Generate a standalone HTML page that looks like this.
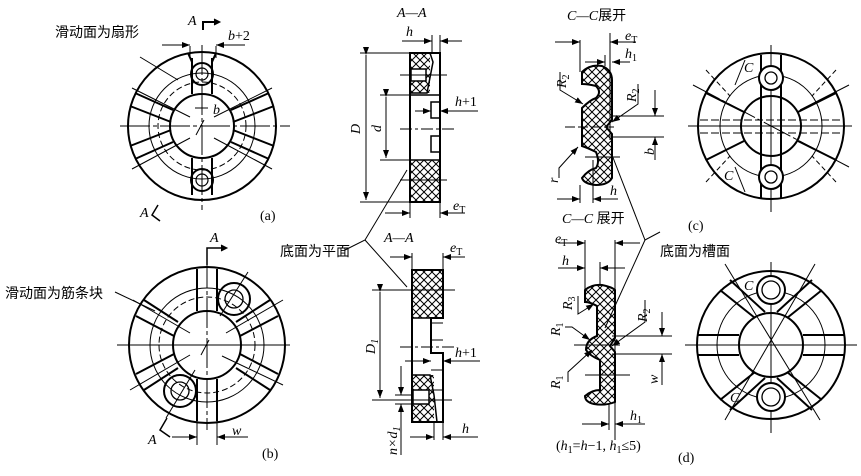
<!DOCTYPE html>
<html><head><meta charset="utf-8"><style>
body{margin:0;background:#fff}
svg{display:block}
text{font-family:"Liberation Serif","Noto Serif CJK SC",serif;font-size:14px;fill:#000}
.cn{font-family:"Liberation Sans","Noto Sans CJK SC",sans-serif;font-size:14px}
.i{font-style:italic}
</style></head><body>
<svg width="861" height="476" viewBox="0 0 861 476" xmlns="http://www.w3.org/2000/svg">
<defs>
<pattern id="h" width="8" height="8" patternUnits="userSpaceOnUse">
<path d="M0 0L8 8M8 0L0 8" stroke="#000" stroke-width="1"/>
</pattern>
<marker id="ar" markerWidth="8" markerHeight="6" refX="8" refY="3" orient="auto"><path d="M0 0L8 3L0 6z" fill="#000"/></marker>
</defs>
<g fill="none" stroke="#000">

<!-- (a) -->
<g>
<circle cx="202" cy="126" r="74" stroke-width="2"/>
<circle cx="202" cy="126" r="53" stroke-width="1"/>
<circle cx="202" cy="126" r="44" stroke-width="1" stroke-dasharray="6 3"/>
<circle cx="202" cy="126" r="32" stroke-width="2"/>
<line x1="120" y1="126" x2="290" y2="126" stroke-dasharray="30 3 4 3"/>
<line x1="202" y1="45" x2="202" y2="210" stroke-dasharray="30 3 4 3"/>
<g stroke-width="2">
<line x1="192" y1="58" x2="192" y2="94"/><line x1="212" y1="58" x2="212" y2="94"/>
<line x1="192" y1="158" x2="192" y2="195"/><line x1="212" y1="158" x2="212" y2="195"/>
<line x1="188" y1="53" x2="192" y2="62"/><line x1="216" y1="53" x2="212" y2="62"/>
<circle cx="202" cy="74" r="11"/><circle cx="202" cy="74" r="6" stroke-width="1.2"/>
<circle cx="202" cy="180" r="11"/><circle cx="202" cy="180" r="6" stroke-width="1.2"/>
<line x1="135" y1="93" x2="173" y2="110"/><line x1="130" y1="106" x2="171" y2="122"/>
<line x1="269" y1="93" x2="231" y2="110"/><line x1="274" y1="106" x2="233" y2="122"/>
<line x1="135" y1="159" x2="173" y2="142"/><line x1="130" y1="146" x2="171" y2="130"/>
<line x1="269" y1="159" x2="231" y2="142"/><line x1="274" y1="146" x2="233" y2="130"/>
</g>
<line x1="132" y1="88" x2="190" y2="117"/><line x1="272" y1="88" x2="214" y2="117"/>
<line x1="132" y1="169" x2="190" y2="138"/><line x1="272" y1="169" x2="214" y2="138"/>
<line x1="196" y1="135" x2="204" y2="120"/>
<line x1="190" y1="46" x2="190" y2="58"/><line x1="216" y1="46" x2="216" y2="58"/>
<line x1="162" y1="45" x2="190" y2="45" marker-end="url(#ar)"/><line x1="245" y1="45" x2="216" y2="45" marker-end="url(#ar)"/>
<line x1="195" y1="108" x2="208" y2="108"/>
<line x1="140" y1="57" x2="178" y2="80"/>
<path d="M203 30V22H215" stroke-width="2"/><path d="M214 19L220 22L214 25" fill="#000"/>
<path d="M158 205L152 215L160 221" stroke-width="1.5"/>
</g>

<!-- (a) section -->
<g>
<rect x="410" y="53" width="20" height="40" fill="url(#h)" stroke="none"/>
<rect x="410" y="160" width="30" height="42" fill="url(#h)" stroke="none"/>
<rect x="411" y="69" width="15" height="12" fill="#fff" stroke-width="1.5"/>
<rect x="410" y="53" width="30" height="149" stroke-width="2"/>
<path d="M430 53L433 62L427 93H410" stroke-width="1.5"/>
<line x1="410" y1="95" x2="440" y2="95" stroke-width="1.5"/>
<line x1="410" y1="160" x2="440" y2="160" stroke-width="1.5"/>
<rect x="431" y="102" width="9" height="16" stroke-width="1.5"/>
<rect x="431" y="136" width="9" height="16" stroke-width="1.5"/>
<line x1="400" y1="129" x2="455" y2="129" stroke-dasharray="12 3 3 3"/>
<line x1="400" y1="75" x2="447" y2="75"/>
<line x1="400" y1="180" x2="447" y2="180"/>
<line x1="360" y1="53" x2="410" y2="53"/><line x1="360" y1="202" x2="410" y2="202"/>
<line x1="366" y1="55" x2="366" y2="200" marker-start="url(#ar)" marker-end="url(#ar)" />
<line x1="380" y1="95" x2="410" y2="95"/><line x1="380" y1="160" x2="410" y2="160"/>
<line x1="386" y1="97" x2="386" y2="158" marker-start="url(#ar)" marker-end="url(#ar)"/>
<line x1="432" y1="35" x2="432" y2="53"/><line x1="440" y1="35" x2="440" y2="53"/>
<line x1="402" y1="41" x2="432" y2="41" marker-end="url(#ar)"/><line x1="462" y1="41" x2="440" y2="41" marker-end="url(#ar)"/>
<line x1="415" y1="111" x2="431" y2="111" marker-end="url(#ar)"/><line x1="478" y1="111" x2="440" y2="111" marker-end="url(#ar)"/>
<line x1="410" y1="202" x2="410" y2="218"/><line x1="440" y1="202" x2="440" y2="218"/>
<line x1="385" y1="213" x2="410" y2="213" marker-end="url(#ar)"/><line x1="465" y1="213" x2="440" y2="213" marker-end="url(#ar)"/>
<path d="M345 250L365 240L407 170"/>
<path d="M365 240L407 287"/>
</g>

<!-- (b) -->
<g>
<circle cx="207" cy="345" r="78" stroke-width="2"/>
<circle cx="207" cy="345" r="57" stroke-width="1"/>
<circle cx="207" cy="345" r="48" stroke-width="1" stroke-dasharray="6 3"/>
<circle cx="207" cy="345" r="34" stroke-width="2"/>
<line x1="117" y1="345" x2="290" y2="345"/>
<line x1="207" y1="258" x2="207" y2="430" stroke-dasharray="30 3 4 3"/>
<g stroke-width="2">
<line x1="197" y1="269" x2="197" y2="311"/><line x1="217" y1="269" x2="217" y2="311"/>
<line x1="197" y1="379" x2="197" y2="421"/><line x1="217" y1="379" x2="217" y2="421"/>
<line x1="144" y1="300" x2="178" y2="322"/><line x1="136" y1="316" x2="174" y2="336"/>
<line x1="270" y1="300" x2="236" y2="322"/><line x1="278" y1="316" x2="240" y2="336"/>
<line x1="144" y1="390" x2="178" y2="368"/><line x1="136" y1="374" x2="174" y2="354"/>
<line x1="270" y1="390" x2="236" y2="368"/><line x1="278" y1="374" x2="240" y2="354"/>
<circle cx="234" cy="299" r="16"/><circle cx="234" cy="299" r="9" stroke-width="1.3"/>
<circle cx="180" cy="391" r="16"/><circle cx="180" cy="391" r="9" stroke-width="1.3"/>
</g>
<line x1="248" y1="272" x2="220" y2="316"/><line x1="166" y1="418" x2="195" y2="370"/>
<line x1="130" y1="390" x2="190" y2="355"/><line x1="283" y1="300" x2="226" y2="333"/>
<line x1="283" y1="385" x2="222" y2="356"/><line x1="133" y1="300" x2="190" y2="333"/>
<line x1="201" y1="355" x2="209" y2="340"/>
<line x1="197" y1="421" x2="197" y2="445"/><line x1="217" y1="421" x2="217" y2="445"/>
<line x1="172" y1="437" x2="197" y2="437" marker-end="url(#ar)"/><line x1="248" y1="437" x2="217" y2="437" marker-end="url(#ar)"/>
<line x1="115" y1="292" x2="155" y2="311"/>
<path d="M207 265V248H222" stroke-width="1.5"/><path d="M221 245L227 248L221 251" fill="#000"/>
<path d="M167 418L160 430L170 437" stroke-width="1.5"/>
</g>

<!-- (b) section -->
<g>
<rect x="412" y="270" width="31" height="48" fill="url(#h)" stroke="none"/>
<rect x="412" y="375" width="22" height="47" fill="url(#h)" stroke="none"/>
<rect x="413" y="390" width="16" height="14" fill="#fff" stroke-width="1.5"/>
<path d="M412 270H443V318H431V353H443V422H412Z" stroke-width="2"/>
<path d="M412 375H430L434 395L437 422" stroke-width="1.5"/>
<line x1="412" y1="318" x2="431" y2="318" stroke-width="1.5"/>
<line x1="431" y1="323" x2="443" y2="323"/><line x1="431" y1="340" x2="443" y2="340"/>
<line x1="431" y1="370" x2="443" y2="370"/><line x1="431" y1="390" x2="443" y2="390"/>
<line x1="400" y1="347" x2="455" y2="347" stroke-dasharray="12 3 3 3"/>
<line x1="372" y1="290" x2="455" y2="290"/><line x1="372" y1="400" x2="452" y2="400"/>
<line x1="380" y1="292" x2="380" y2="398" marker-start="url(#ar)" marker-end="url(#ar)"/>
<line x1="412" y1="253" x2="412" y2="270"/><line x1="443" y1="253" x2="443" y2="270"/>
<line x1="390" y1="257" x2="412" y2="257" marker-end="url(#ar)"/><line x1="465" y1="257" x2="443" y2="257" marker-end="url(#ar)"/>
<line x1="405" y1="361" x2="431" y2="361" marker-end="url(#ar)"/><line x1="480" y1="361" x2="443" y2="361" marker-end="url(#ar)"/>
<line x1="401" y1="366" x2="401" y2="395" marker-end="url(#ar)"/><line x1="401" y1="455" x2="401" y2="404" marker-end="url(#ar)"/>
<line x1="395" y1="395" x2="412" y2="395"/><line x1="395" y1="404" x2="412" y2="404"/>
<line x1="434" y1="422" x2="434" y2="440"/><line x1="443" y1="422" x2="443" y2="440"/>
<line x1="410" y1="437" x2="434" y2="437" marker-end="url(#ar)"/><line x1="478" y1="437" x2="443" y2="437" marker-end="url(#ar)"/>
</g>

<!-- (c) section -->
<g>
<path d="M582 72Q590 64 602 66Q612 70 612 80V120L606 127L612 134V178Q608 185 596 185Q584 184 582 178Q588 170 596 168Q600 162 596 152Q588 148 582 146V108Q590 100 596 98Q602 92 596 86Q588 84 582 84Z" fill="url(#h)" stroke-width="2"/>
<line x1="580" y1="40" x2="580" y2="72"/><line x1="610" y1="33" x2="610" y2="140"/>
<line x1="555" y1="42" x2="580" y2="42" marker-end="url(#ar)"/><line x1="636" y1="42" x2="610" y2="42" marker-end="url(#ar)"/>
<line x1="605" y1="55" x2="605" y2="66"/><line x1="585" y1="62" x2="605" y2="62" marker-end="url(#ar)"/><line x1="630" y1="62" x2="612" y2="62" marker-end="url(#ar)"/>
<line x1="612" y1="116" x2="664" y2="116"/><line x1="612" y1="137" x2="664" y2="137"/>
<line x1="655" y1="90" x2="655" y2="116" marker-end="url(#ar)"/><line x1="655" y1="160" x2="655" y2="137" marker-end="url(#ar)"/>
<line x1="565" y1="127" x2="615" y2="127" stroke-dasharray="10 3"/>
<line x1="585" y1="157" x2="620" y2="157"/>
<line x1="580" y1="185" x2="580" y2="203"/><line x1="593" y1="160" x2="593" y2="203"/>
<line x1="557" y1="199" x2="580" y2="199" marker-end="url(#ar)"/><line x1="618" y1="199" x2="593" y2="199" marker-end="url(#ar)"/>
<path d="M560 72V90L583 104" marker-end="url(#ar)"/>
<path d="M638 84V104L612 122" marker-end="url(#ar)"/>
<path d="M559 178V168L578 147" marker-end="url(#ar)"/>
<path d="M612 155L645 240L660 232"/>
<path d="M645 240L605 328"/>
</g>

<!-- (c) -->
<g>
<circle cx="771" cy="126" r="73" stroke-width="2"/>
<circle cx="771" cy="126" r="51" stroke-width="1"/>
<circle cx="771" cy="126" r="30" stroke-width="2"/>
<line x1="688" y1="126" x2="852" y2="126"/>
<line x1="771" y1="45" x2="771" y2="212"/>
<line x1="700" y1="120" x2="842" y2="120" stroke-dasharray="8 3"/><line x1="700" y1="133" x2="842" y2="133" stroke-dasharray="8 3"/>
<g stroke-width="2">
<line x1="761" y1="55" x2="761" y2="198"/><line x1="781" y1="55" x2="781" y2="198"/>
<circle cx="771" cy="78" r="12" fill="#fff"/><circle cx="771" cy="78" r="6" stroke-width="1.3"/>
<circle cx="771" cy="177" r="12" fill="#fff"/><circle cx="771" cy="177" r="6" stroke-width="1.3"/>
<line x1="706" y1="93" x2="744" y2="112"/><line x1="836" y1="93" x2="798" y2="112"/>
<line x1="706" y1="160" x2="744" y2="141"/><line x1="836" y1="160" x2="798" y2="141"/>
</g>
<line x1="693" y1="85" x2="849" y2="167" stroke-dasharray="30 3 4 3"/>
<line x1="849" y1="85" x2="800" y2="110"/>
<line x1="706" y1="70" x2="730" y2="96" stroke-dasharray="5 3"/><line x1="836" y1="70" x2="812" y2="96" stroke-dasharray="5 3"/>
<line x1="706" y1="182" x2="730" y2="156" stroke-dasharray="5 3"/><line x1="836" y1="182" x2="812" y2="156" stroke-dasharray="5 3"/>
<line x1="745" y1="60" x2="735" y2="85"/><line x1="745" y1="192" x2="735" y2="167"/>
</g>

<!-- (d) section -->
<g>
<path d="M585 290Q592 284 602 285Q612 287 615 290V338L610 346L615 352V402Q605 406 594 404Q585 402 585 396Q592 390 600 390V360Q590 356 586 350Q586 340 597 336V306Q590 302 585 302Z" fill="url(#h)" stroke-width="2"/>
<line x1="585" y1="240" x2="585" y2="290"/><line x1="615" y1="240" x2="615" y2="440"/>
<line x1="558" y1="243" x2="585" y2="243" marker-end="url(#ar)"/><line x1="640" y1="243" x2="615" y2="243" marker-end="url(#ar)"/>
<line x1="600" y1="262" x2="600" y2="285"/><line x1="558" y1="268" x2="585" y2="268" marker-end="url(#ar)"/><line x1="625" y1="268" x2="600" y2="268" marker-end="url(#ar)"/>
<line x1="612" y1="336" x2="672" y2="336"/><line x1="612" y1="354" x2="672" y2="354"/>
<line x1="662" y1="312" x2="662" y2="336" marker-end="url(#ar)"/><line x1="662" y1="385" x2="662" y2="354" marker-end="url(#ar)"/>
<line x1="574" y1="345" x2="620" y2="345"/>
<line x1="585" y1="375" x2="630" y2="375"/>
<line x1="609" y1="404" x2="609" y2="430"/>
<line x1="582" y1="424" x2="609" y2="424" marker-end="url(#ar)"/><line x1="645" y1="424" x2="615" y2="424" marker-end="url(#ar)"/>
<path d="M578 296V314L594 304" marker-end="url(#ar)"/>
<path d="M565 327H572L590 340" marker-end="url(#ar)"/>
<path d="M568 382V372L592 350" marker-end="url(#ar)"/>
<path d="M645 300V322L612 346" marker-end="url(#ar)"/>
</g>

<!-- (d) -->
<g>
<circle cx="771" cy="345" r="74" stroke-width="2"/>
<circle cx="771" cy="345" r="54" stroke-width="1"/>
<circle cx="771" cy="345" r="32" stroke-width="2"/>
<line x1="685" y1="345" x2="857" y2="345"/>
<line x1="771" y1="262" x2="771" y2="433"/>
<g stroke-width="2">
<line x1="698" y1="335" x2="739" y2="335"/><line x1="698" y1="355" x2="739" y2="355"/>
<line x1="803" y1="335" x2="844" y2="335"/><line x1="803" y1="355" x2="844" y2="355"/>
<line x1="720" y1="290" x2="755" y2="318"/><line x1="730" y1="280" x2="765" y2="312"/>
<line x1="822" y1="290" x2="787" y2="318"/><line x1="812" y1="280" x2="777" y2="312"/>
<line x1="720" y1="400" x2="755" y2="372"/><line x1="730" y1="410" x2="765" y2="378"/>
<line x1="822" y1="400" x2="787" y2="372"/><line x1="812" y1="410" x2="777" y2="378"/>
<circle cx="771" cy="290" r="14" fill="#fff"/><circle cx="771" cy="290" r="9" stroke-width="1.3"/>
<circle cx="771" cy="397" r="14" fill="#fff"/><circle cx="771" cy="397" r="9" stroke-width="1.3"/>
</g>
<line x1="725" y1="264" x2="820" y2="420"/><line x1="815" y1="264" x2="725" y2="420"/>
<line x1="700" y1="345" x2="842" y2="345" stroke-dasharray="8 3"/>
</g>
</g>

<!-- texts -->
<text x="55" y="37" class="cn">滑动面为扇形</text>
<text x="188" y="25" class="i">A</text>
<text x="228" y="40"><tspan class="i">b</tspan>+2</text>
<text x="213" y="114" class="i">b</text>
<text x="140" y="217" class="i">A</text>
<text x="260" y="220">(a)</text>
<text x="397" y="17" class="i">A—A</text>
<text x="406" y="36" class="i">h</text>
<text x="455" y="106"><tspan class="i">h</tspan>+1</text>
<text x="453" y="210"><tspan class="i">e</tspan><tspan font-size="10" dy="3">T</tspan></text>
<text x="360" y="134" class="i" transform="rotate(-90 360 134)">D</text>
<text x="381" y="132" class="i" transform="rotate(-90 381 132)">d</text>
<text x="280" y="256" class="cn">底面为平面</text>
<text x="384" y="242" class="i">A—A</text>
<text x="450" y="252"><tspan class="i">e</tspan><tspan font-size="10" dy="3">T</tspan></text>
<text x="455" y="357"><tspan class="i">h</tspan>+1</text>
<text x="462" y="433" class="i">h</text>
<text x="375" y="354" class="i" transform="rotate(-90 375 354)">D<tspan font-size="10" dy="3">1</tspan></text>
<text x="397" y="455" class="i" transform="rotate(-90 397 455)">n×d<tspan font-size="10" dy="3">1</tspan></text>
<text x="5" y="298" class="cn">滑动面为筋条块</text>
<text x="210" y="242" class="i">A</text>
<text x="148" y="444" class="i">A</text>
<text x="232" y="435" class="i">w</text>
<text x="262" y="458">(b)</text>
<text x="567" y="20" class="i">C—C<tspan class="cn" font-style="normal">展开</tspan></text>
<text x="625" y="40"><tspan class="i">e</tspan><tspan font-size="10" dy="3">T</tspan></text>
<text x="625" y="58" class="i">h<tspan font-size="10" dy="3" font-style="normal">1</tspan></text>
<text x="566" y="88" class="i" transform="rotate(-90 566 88)">R<tspan font-size="10" dy="3" font-style="normal">2</tspan></text>
<text x="636" y="102" class="i" transform="rotate(-90 636 102)">R<tspan font-size="10" dy="3" font-style="normal">2</tspan></text>
<text x="654" y="155" class="i" transform="rotate(-90 654 155)">b</text>
<text x="558" y="183" class="i" transform="rotate(-90 558 183)">r</text>
<text x="610" y="195" class="i">h</text>
<text x="688" y="230">(c)</text>
<text x="744" y="72" class="i">C</text>
<text x="724" y="180" class="i">C</text>
<text x="562" y="223" class="i">C—C <tspan class="cn" font-style="normal">展开</tspan></text>
<text x="555" y="243"><tspan class="i">e</tspan><tspan font-size="10" dy="3">T</tspan></text>
<text x="562" y="265" class="i">h</text>
<text x="660" y="256" class="cn">底面为槽面</text>
<text x="572" y="310" class="i" transform="rotate(-90 572 310)">R<tspan font-size="10" dy="3" font-style="normal">3</tspan></text>
<text x="560" y="336" class="i" transform="rotate(-90 560 336)">R<tspan font-size="10" dy="3" font-style="normal">1</tspan></text>
<text x="560" y="389" class="i" transform="rotate(-90 560 389)">R<tspan font-size="10" dy="3" font-style="normal">1</tspan></text>
<text x="647" y="322" class="i" transform="rotate(-90 647 322)">R<tspan font-size="10" dy="3" font-style="normal">2</tspan></text>
<text x="658" y="384" class="i" transform="rotate(-90 658 384)">w</text>
<text x="630" y="420" class="i">h<tspan font-size="10" dy="3" font-style="normal">1</tspan></text>
<text x="556" y="450">(<tspan class="i">h</tspan><tspan font-size="10" dy="3">1</tspan><tspan dy="-3">=</tspan><tspan class="i">h</tspan>−1, <tspan class="i">h</tspan><tspan font-size="10" dy="3">1</tspan><tspan dy="-3">≤5)</tspan></text>
<text x="678" y="462">(d)</text>
<text x="744" y="290" class="i">C</text>
<text x="730" y="402" class="i">C</text>
</svg>
</body></html>
